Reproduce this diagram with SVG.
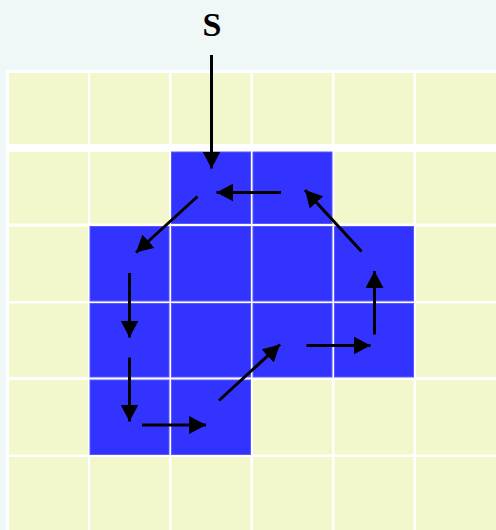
<svg xmlns="http://www.w3.org/2000/svg" width="496" height="530" viewBox="0 0 496 530">
<style>
.y{fill:#f3f7cc}
.b{fill:#3333ff;stroke:#5a5aff;stroke-width:1}
.a{stroke:#000;stroke-width:3;fill:none;marker-end:url(#ah)}
</style>
<defs>
<marker id="ah" markerUnits="userSpaceOnUse" markerWidth="18" markerHeight="18" refX="15" refY="8" orient="auto" viewBox="0 0 16 16">
<path d="M0,0 L15,8 L0,16 Z" fill="#000"/>
</marker>
</defs>
<rect x="0" y="0" width="496" height="530" fill="#f0f7f7"/>
<rect x="6" y="70" width="490" height="460" fill="#ffffff"/>
<g id="grid">
<rect class="y" x="9" y="73" width="79" height="71"/>
<rect class="y" x="90" y="73" width="79" height="71"/>
<rect class="y" x="171.5" y="73" width="79" height="71"/>
<rect class="y" x="253" y="73" width="79" height="71"/>
<rect class="y" x="334.5" y="73" width="79" height="71"/>
<rect class="y" x="416" y="73" width="80" height="71"/>

<rect class="y" x="9" y="152" width="79" height="71.5"/>
<rect class="y" x="90" y="152" width="79" height="71.5"/>
<rect class="y" x="334.5" y="152" width="79" height="71.5"/>
<rect class="y" x="416" y="152" width="80" height="71.5"/>

<rect class="y" x="9" y="226.5" width="79" height="74.5"/>
<rect class="y" x="416" y="226.5" width="80" height="74.5"/>

<rect class="y" x="9" y="303.5" width="79" height="73.5"/>
<rect class="y" x="416" y="303.5" width="80" height="73.5"/>

<rect class="y" x="9" y="380" width="79" height="74.5"/>
<rect class="y" x="253" y="380" width="79" height="74.5"/>
<rect class="y" x="334.5" y="380" width="79" height="74.5"/>
<rect class="y" x="416" y="380" width="80" height="74.5"/>

<rect class="y" x="9" y="457" width="79" height="73"/>
<rect class="y" x="90" y="457" width="79" height="73"/>
<rect class="y" x="171.5" y="457" width="79" height="73"/>
<rect class="y" x="253" y="457" width="79" height="73"/>
<rect class="y" x="334.5" y="457" width="79" height="73"/>
<rect class="y" x="416" y="457" width="80" height="73"/>
</g>
<g id="region">
<rect class="b" x="171.5" y="152" width="79" height="71.5"/>
<rect class="b" x="253" y="152" width="79" height="71.5"/>
<rect class="b" x="90" y="226.5" width="79" height="74.5"/>
<rect class="b" x="171.5" y="226.5" width="79" height="74.5"/>
<rect class="b" x="253" y="226.5" width="79" height="74.5"/>
<rect class="b" x="334.5" y="226.5" width="79" height="74.5"/>
<rect class="b" x="90" y="303.5" width="79" height="73.5"/>
<rect class="b" x="171.5" y="303.5" width="79" height="73.5"/>
<rect class="b" x="253" y="303.5" width="79" height="73.5"/>
<rect class="b" x="334.5" y="303.5" width="79" height="73.5"/>
<rect class="b" x="90" y="380" width="79" height="74.5"/>
<rect class="b" x="171.5" y="380" width="79" height="74.5"/>
</g>
<g id="label-S">
<text x="212" y="36" font-family="'Liberation Serif', serif" font-weight="bold" font-size="34" text-anchor="middle" fill="#000">S</text>
</g>
<g id="connectors">
<line class="a" x1="211.5" y1="55" x2="211.5" y2="168.5"/>
<line class="a" x1="281" y1="192.5" x2="216.5" y2="192.5"/>
<line class="a" x1="197.5" y1="196.5" x2="136" y2="252.5"/>
<line class="a" x1="129.5" y1="273" x2="129.5" y2="337.5"/>
<line class="a" x1="129.5" y1="357.5" x2="129.5" y2="421.5"/>
<line class="a" x1="142" y1="425" x2="206" y2="425"/>
<line class="a" x1="219" y1="400.5" x2="280" y2="344.5"/>
<line class="a" x1="306.5" y1="345.5" x2="370.5" y2="345.5"/>
<line class="a" x1="374.5" y1="334.5" x2="374.5" y2="271"/>
<line class="a" x1="361.5" y1="251.5" x2="305" y2="190"/>
</g>
</svg>
